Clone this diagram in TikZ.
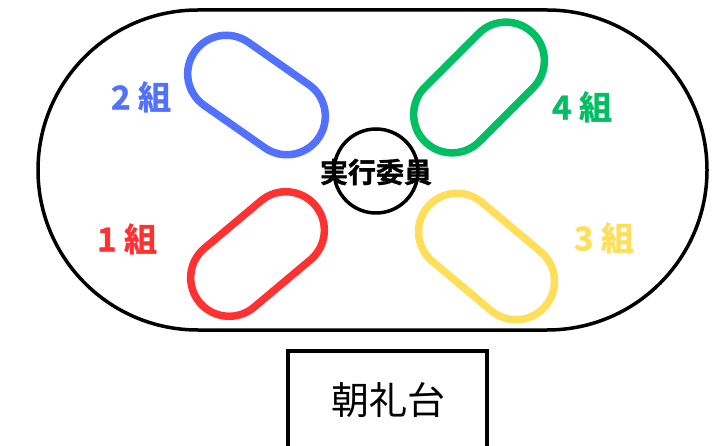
\documentclass[tikz,border=0pt]{standalone}
\usepackage{fontspec}
\newfontfamily\jp{Noto Sans CJK JP}
\newfontfamily\jpheavy[FakeBold=1.2]{Noto Sans CJK JP Bold}
\usetikzlibrary{shapes.misc}
\definecolor{cred}{HTML}{FF3131}
\definecolor{cblue}{HTML}{5271FF}
\definecolor{cgreen}{HTML}{00BF63}
\definecolor{cyellow}{HTML}{FFDE59}
\begin{document}
\begin{tikzpicture}[x=1pt,y=-1pt,
  pill/.style={rounded rectangle, draw, line width=7.5pt, minimum height=77pt, inner sep=0pt},
  grp/.style={font=\jpheavy\fontsize{33}{33}\selectfont, inner sep=0pt},
  thick line/.style={draw=black, line width=3.5pt, inner sep=0pt}]
\useasboundingbox (0,0) rectangle (722,446);
\node[thick line, rounded rectangle, minimum width=669pt, minimum height=320pt] (track) at (372.5,170) {};
\node[pill, draw=cblue, minimum width=151pt, rotate=-35] (p2) at (256.5,95) {};
\node[pill, draw=cred, minimum width=151pt, rotate=40] (p1) at (257.5,254) {};
\node[pill, draw=cgreen, minimum width=153pt, rotate=45] (p4) at (479,87.5) {};
\node[pill, draw=cyellow, minimum width=154pt, rotate=-40] (p3) at (486.5,256.5) {};
\node[thick line, circle, minimum size=84pt] (ctr) at (376,171) {};
\node[font=\jpheavy\fontsize{28}{28}\selectfont, inner sep=0pt] (jk) at (376,172) {実行委員};
\node[grp, text=cblue] (g2) at (141,97) {2 組};
\node[grp, text=cgreen] (g4) at (582,107) {4 組};
\node[grp, text=cred] (g1) at (127,239) {1 組};
\node[grp, text=cyellow] (g3) at (604,238) {3 組};
\node[draw=black, line width=4pt, minimum width=199pt, minimum height=119pt, inner sep=0pt] (stage) at (387.5,410.5) {};
\node[font=\jp\fontsize{38}{38}\selectfont, inner sep=0pt] (stagelabel) at (388,400) {朝礼台};
\end{tikzpicture}
\end{document}
